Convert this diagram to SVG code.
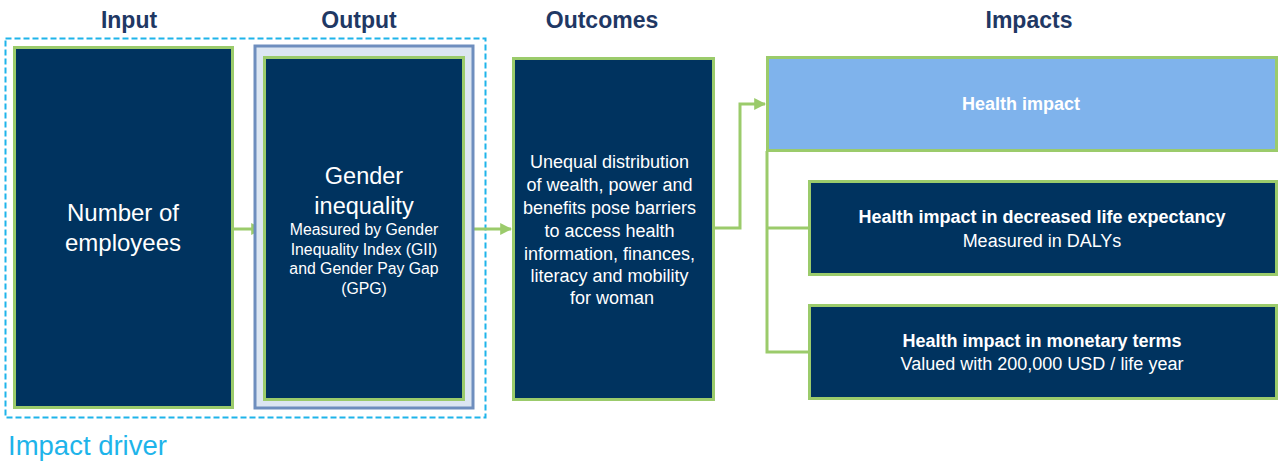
<svg xmlns="http://www.w3.org/2000/svg" width="1279" height="461" viewBox="0 0 1279 461">
<defs>
<style>
.hdr{font-family:"Liberation Sans",Arial,sans-serif;font-weight:bold;font-size:23px;fill:#1F3864;text-anchor:middle}
.nav{fill:#00335F;stroke:#9BCB6B;stroke-width:3}
.wt{font-family:"Liberation Sans",Arial,sans-serif;fill:#FFFFFF;text-anchor:middle}
.b{font-weight:bold}
.con{fill:none;stroke:#9BCB6B;stroke-width:3}
</style>
<marker id="ah" viewBox="0 0 10 10" refX="9" refY="5" markerWidth="4" markerHeight="4" orient="auto" markerUnits="strokeWidth">
<path d="M0,0 L10,5 L0,10 z" fill="#9BCB6B"/>
</marker>
</defs>
<rect width="1279" height="461" fill="#FFFFFF"/>

<g id="headers">
<text class="hdr" x="129" y="28">Input</text>
<text class="hdr" x="359" y="28">Output</text>
<text class="hdr" x="602" y="28">Outcomes</text>
<text class="hdr" x="1029" y="28">Impacts</text>
</g>

<g id="impact-driver">
<rect x="5.5" y="38.5" width="480" height="379" fill="none" stroke="#1EB4EA" stroke-width="2" stroke-dasharray="6,3"/>
<text x="8" y="455" font-family="'Liberation Sans',Arial,sans-serif" font-size="27.5" fill="#1EB4EA">Impact driver</text>
</g>

<g id="connectors">
<line class="con" x1="233" y1="229" x2="262" y2="229" marker-end="url(#ah)"/>
<line class="con" x1="465" y1="229" x2="511" y2="229" marker-end="url(#ah)"/>
<polyline class="con" points="714,228 740,228 740,104 765,104" marker-end="url(#ah)"/>
<polyline class="con" points="767,151 767,352 808,352"/>
<line class="con" x1="767" y1="228" x2="808" y2="228"/>
</g>

<g id="input">
<rect class="nav" x="14.5" y="47.5" width="218" height="360"/>
<text class="wt" x="123" y="221" font-size="24">Number of</text>
<text class="wt" x="123" y="251" font-size="24">employees</text>
</g>

<g id="output">
<rect x="255" y="46" width="218" height="362" fill="#DCE6F2" stroke="#6E8EBE" stroke-width="3"/>
<rect class="nav" x="264.5" y="57.5" width="199" height="342"/>
<text class="wt" x="364" y="184" font-size="23.5">Gender</text>
<text class="wt" x="364" y="214" font-size="23.5">inequality</text>
<text class="wt" x="364" y="235" font-size="15.8">Measured by Gender</text>
<text class="wt" x="364" y="255" font-size="15.8">Inequality Index (GII)</text>
<text class="wt" x="364" y="274" font-size="15.8">and Gender Pay Gap</text>
<text class="wt" x="364" y="294" font-size="15.8">(GPG)</text>
</g>

<g id="outcomes">
<rect class="nav" x="513.5" y="58.5" width="200" height="341"/>
<text class="wt" font-size="18">
<tspan x="612" y="168">Unequal distribution</tspan>
<tspan x="612" y="191">of wealth, power and</tspan>
<tspan x="612" y="214">benefits pose barriers</tspan>
<tspan x="612" y="237">to access health</tspan>
<tspan x="612" y="260">information, finances,</tspan>
<tspan x="612" y="282">literacy and mobility</tspan>
<tspan x="612" y="304">for woman</tspan>
</text>
</g>

<g id="health-impact">
<rect x="767.5" y="57.5" width="509" height="93" fill="#7FB3EC" stroke="#9BCB6B" stroke-width="3"/>
<text class="wt b" x="1021" y="110" font-size="18">Health impact</text>
</g>

<g id="life-expectancy">
<rect class="nav" x="809.5" y="181.5" width="467" height="93"/>
<text class="wt b" x="1042" y="223" font-size="18">Health impact in decreased life expectancy</text>
<text class="wt" x="1042" y="247" font-size="18">Measured in DALYs</text>
</g>

<g id="monetary">
<rect class="nav" x="809.5" y="305.5" width="467" height="93"/>
<text class="wt b" x="1042" y="347" font-size="18">Health impact in monetary terms</text>
<text class="wt" x="1042" y="370" font-size="18">Valued with 200,000 USD / life year</text>
</g>
</svg>
